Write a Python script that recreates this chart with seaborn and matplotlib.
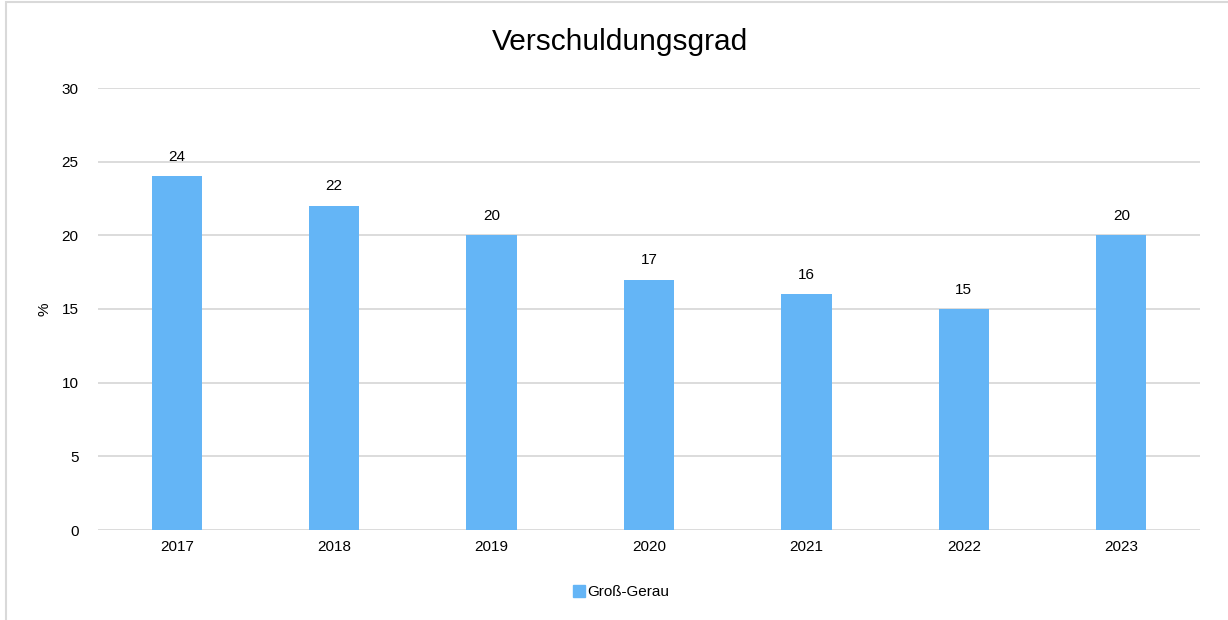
import pandas as pd
import numpy as np
import matplotlib.pyplot as plt
import seaborn as sb
from matplotlib.patches import Rectangle
from matplotlib.lines import Line2D

years = ['2017', '2018', '2019', '2020', '2021', '2022', '2023']
values = [24, 22, 20, 17, 16, 15, 20]
series_name = 'Groß-Gerau'
bar_color = '#64B5F6'

df = pd.DataFrame({'year': years, 'value': values})

sb.set_style('white')
plt.rcParams['font.family'] = ['Liberation Sans', 'DejaVu Sans']
plt.rcParams['text.color'] = '#000000'

fig = plt.figure(figsize=(12.28, 6.2), dpi=100)
ax = fig.add_axes([98/1228, 1-530/620, 1102/1228, 442/620])

sb.barplot(data=df, x='year', y='value', color=bar_color, width=0.32, saturation=1,
           linewidth=0, ax=ax, zorder=3)
ax.bar_label(ax.containers[0], fmt='%d', padding=9, fontsize=11, color='#000000')

ax.set_ylim(0, 30)
ax.set_xlim(-0.5, 6.5)
ax.set_yticks([0, 5, 10, 15, 20, 25, 30])
ax.yaxis.grid(True, color='#d9d9d9', linewidth=1.3, zorder=0)
ax.xaxis.grid(False)
for s in ax.spines.values():
    s.set_visible(False)
ax.tick_params(axis='both', length=0, labelsize=11, colors='#000000')
ax.tick_params(axis='y', pad=14)
ax.tick_params(axis='x', pad=7)
ax.set_xlabel('')
ax.set_ylabel('%', fontsize=11, labelpad=-2, color='#000000')
ax.yaxis.set_label_coords(-46/1102, 0.5)

fig.text(0.505, 1-42/620, 'Verschuldungsgrad', ha='center', va='center', fontsize=21.5, color='#000000')

handle = Line2D([], [], marker='s', linestyle='', markersize=8, color=bar_color)
leg = fig.legend([handle], [series_name], loc='center', bbox_to_anchor=(0.505, 1-592/620),
                 frameon=False, fontsize=11, handletextpad=0.0, handlelength=1.0)
for t in leg.get_texts():
    t.set_color('#000000')

fig.patches.append(Rectangle((6/1228, -0.1), 1.2, 1-2/620+0.1, transform=fig.transFigure,
                             fill=False, edgecolor='#d9d9d9', linewidth=1.5))

fig.savefig('out.png', dpi=100)
